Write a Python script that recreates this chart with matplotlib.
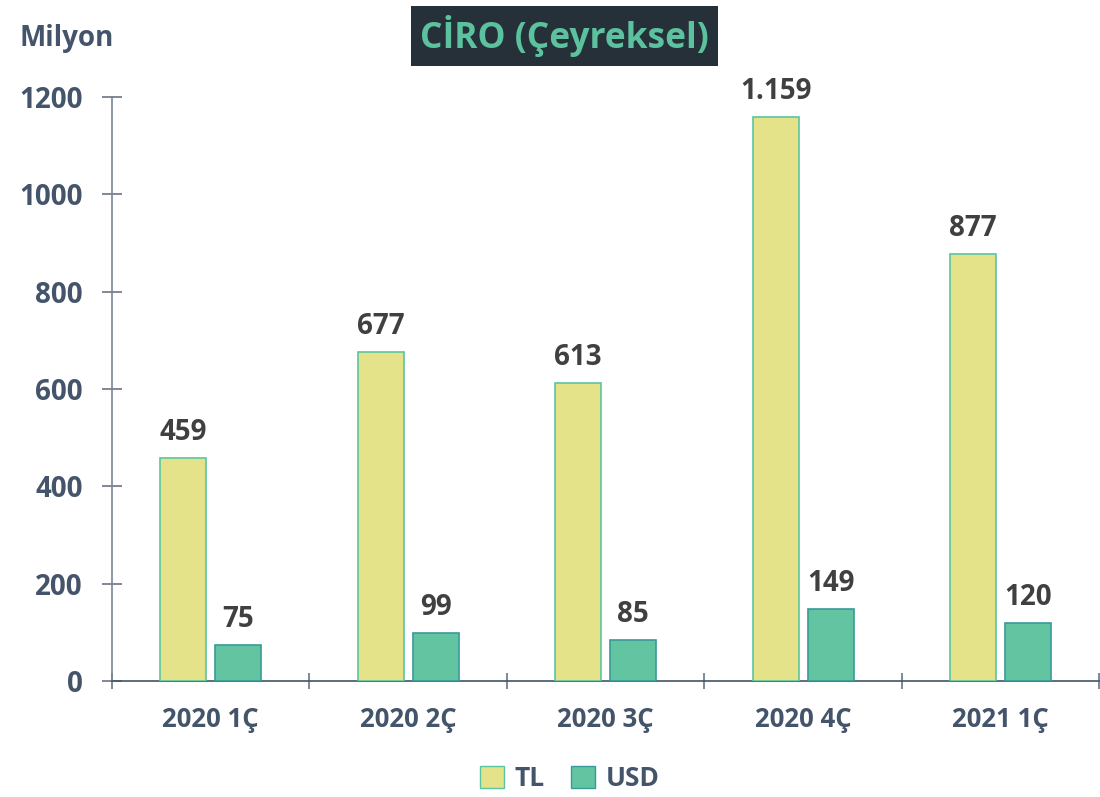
import matplotlib
matplotlib.use("Agg")
import matplotlib.pyplot as plt
import numpy as np
from matplotlib.patches import Patch

categories = ["2020 1Ç", "2020 2Ç", "2020 3Ç", "2020 4Ç", "2021 1Ç"]
tl_values = [459, 677, 613, 1159, 877]
usd_values = [75, 99, 85, 149, 120]
tl_labels = ["459", "677", "613", "1.159", "877"]
usd_labels = ["75", "99", "85", "149", "120"]
yticks = [0, 200, 400, 600, 800, 1000, 1200]

plt.rcParams['font.family'] = ['Open Sans', 'DejaVu Sans']
TEXT = "#44546A"
LABEL = "#404040"
TL_FILL, TL_EDGE = "#E4E38A", "#5BC4A0"
USD_FILL, USD_EDGE = "#62C4A0", "#3A9A9A"

fig = plt.figure(figsize=(11, 7.97), dpi=100)
ax = fig.add_axes([0.1018, 0.1455, 0.8977, 0.7328])

x = np.arange(len(categories)) + 0.5
w = 0.233
off = 0.139
ax.bar(x - off, tl_values, w, color=TL_FILL, edgecolor=TL_EDGE, linewidth=1.2, zorder=3)
ax.bar(x + off, usd_values, w, color=USD_FILL, edgecolor=USD_EDGE, linewidth=1.2, zorder=3)

for xi, v, s in zip(x - off, tl_values, tl_labels):
    ax.text(xi, v + 22, s, ha="center", va="bottom", fontsize=20, fontweight="bold", color=LABEL)
for xi, v, s in zip(x + off, usd_values, usd_labels):
    ax.text(xi, v + 22, s, ha="center", va="bottom", fontsize=20, fontweight="bold", color=LABEL)

ax.set_xlim(0, len(categories))
ax.set_ylim(0, 1200)
ax.set_yticks(yticks)
ax.set_yticklabels([str(t) for t in yticks], fontsize=20, fontweight="bold", color=TEXT)
ax.set_xticks(x)
ax.set_xticklabels(categories, fontsize=18.5, fontweight="bold", color=TEXT)
ax.set_xticks(np.arange(len(categories) + 1), minor=True)
ax.tick_params(axis="x", which="major", length=0, pad=18)
ax.tick_params(axis="x", which="minor", length=12, direction="inout", color="#6A7585", width=1.2)
ax.tick_params(axis="y", which="major", length=14.4, direction="inout", color="#6A7585", width=1.2, pad=14)
for sp in ["top", "right"]:
    ax.spines[sp].set_visible(False)
ax.spines["left"].set_color("#7A8595")
ax.spines["left"].set_linewidth(1.2)
ax.spines["bottom"].set_color("#44546A")
ax.spines["bottom"].set_linewidth(1.2)

fig.text(0.018, 0.952, "Milyon", fontsize=20, fontweight="bold", color=TEXT, ha="left", va="center")

fig.text(0.513, 0.955, "CİRO (Çeyreksel)", fontsize=25.5, fontweight="bold", color="#5CC19F",
         ha="center", va="center",
         bbox=dict(boxstyle="square,pad=0.25", facecolor="#263038", edgecolor="none"))

handles = [Patch(facecolor=TL_FILL, edgecolor=TL_EDGE, label="TL"),
           Patch(facecolor=USD_FILL, edgecolor=USD_EDGE, label="USD")]
leg = fig.legend(handles=handles, loc="center", bbox_to_anchor=(0.518, 0.023), ncol=2, frameon=False,
                 handlelength=0.9, handleheight=0.9, handletextpad=0.4, columnspacing=1.0,
                 prop={"size": 19, "weight": "bold"})
for t in leg.get_texts():
    t.set_color(TEXT)

fig.savefig("out.png", dpi=100)
